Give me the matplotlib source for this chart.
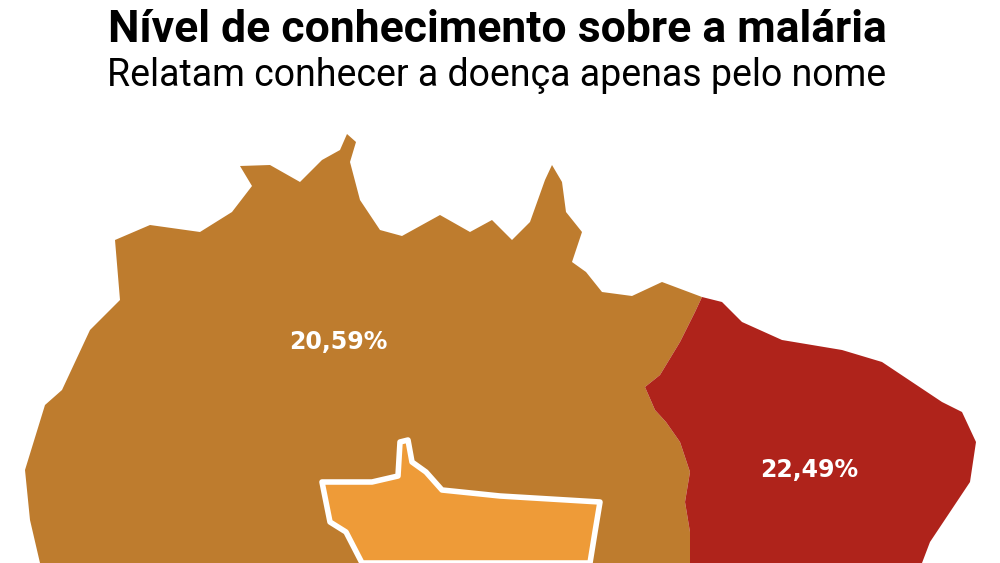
import matplotlib
matplotlib.use("Agg")
import matplotlib.pyplot as plt
from matplotlib.patches import Polygon

title = "Nível de conhecimento sobre a malária"
subtitle = "Relatam conhecer a doença apenas pelo nome"
regions = ["Norte", "Nordeste", "Centro-Oeste"]
values = [20.59, 22.49, None]
colors = ["#BE7C2E", "#AF231B", "#EE9B38"]

shapes = {
    "Norte": [(40,563),(30,520),(25,470),(45,405),(62,390),(90,330),(120,300),(115,240),(150,225),(200,232),
              (232,212),(252,186),(240,166),(270,165),(300,182),(322,160),(340,150),(347,134),(356,142),
              (350,162),(360,200),(380,230),(402,236),(440,215),(470,232),(492,220),(512,240),(530,222),
              (545,180),(552,165),(562,182),(566,212),(582,232),(572,262),(586,272),(602,292),(632,296),
              (662,282),(702,297),(695,312),(680,342),(660,375),(645,387),(655,410),(666,422),(680,442),
              (690,472),(685,502),(690,532),(690,563)],
    "Nordeste": [(702,297),(722,302),(742,322),(782,340),(842,350),(882,362),(912,382),(942,402),(962,412),
                 (976,442),(970,482),(950,512),(930,542),(922,563),(690,563),(690,532),(685,502),(690,472),
                 (680,442),(666,422),(655,410),(645,387),(660,375),(680,342),(695,312)],
    "Centro-Oeste": [(322,482),(372,482),(398,476),(400,442),(408,440),(412,462),(426,472),(442,490),
                     (500,496),(600,502),(595,532),(590,563),(362,563),(346,532),(330,522),(326,502)],
}
label_pos = {"Norte": (338, 342), "Nordeste": (809, 470)}

fig = plt.figure(figsize=(10, 5.63), dpi=100)
ax = fig.add_axes([0, 0, 1, 1])
ax.set_xlim(0, 1000); ax.set_ylim(563, 0); ax.axis("off")
for r, v, c in zip(regions, values, colors):
    ec = "white" if r == "Centro-Oeste" else "none"
    ax.add_patch(Polygon(shapes[r], closed=True, facecolor=c, edgecolor=ec, lw=4, joinstyle="round"))
    if v is not None:
        x, y = label_pos[r]
        ax.text(x, y, f"{v:.2f}%".replace(".", ","), color="white", fontsize=17, fontweight="bold",
                ha="center", va="center", family="DejaVu Sans")
ax.text(497, 30, title, ha="center", va="center", fontsize=32, fontweight="bold", family="Roboto")
ax.text(497, 76, subtitle, ha="center", va="center", fontsize=27, family="Roboto")
fig.savefig("out.png", dpi=100)
